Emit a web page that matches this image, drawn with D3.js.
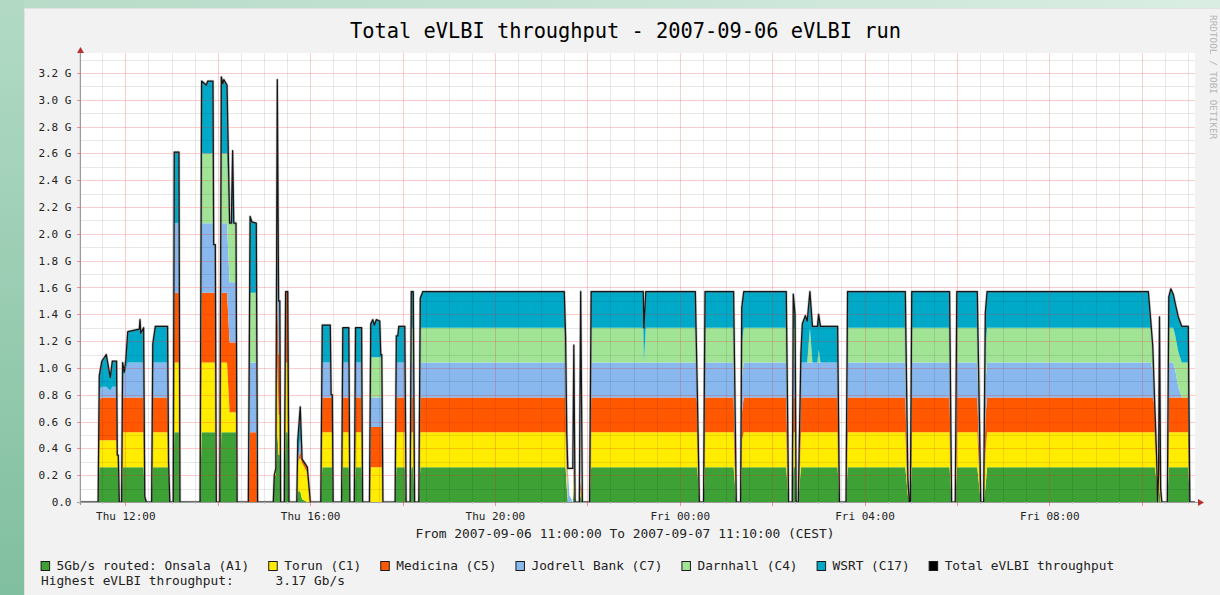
<!DOCTYPE html>
<html>
<head>
<meta charset="utf-8">
<script src="https://cdn.jsdelivr.net/npm/d3@7"></script>
<style>
  html, body { margin:0; padding:0; background:#f2f2f2; overflow:hidden; }
  svg { display:block; }
  text { font-family: "DejaVu Sans Mono", "Liberation Mono", monospace; }
</style>
</head>
<body>
<svg id="chart" width="1220" height="595"></svg>
<script>
// ---------------- DATA ----------------
const timeRange = ["2007-09-06 11:00", "2007-09-07 11:10"];

// minutes after 2007-09-06 11:00 (CEST)
const minutes = [0,24.7,26.2,29.5,35.3,40.5,43.1,48.7,49.6,50.9,
52.2,55.2,56.5,58.7,60.6,63.2,78.2,79.1,80.1,83.8,
85.3,87.3,94.2,95.7,99,114.9,116.2,117.8,122.3,123.6,
129.7,131,157.1,159.1,165.2,167.1,173.9,174.8,176.9,178.2,
182.7,184.7,186.6,187.9,192.1,195.5,197.7,199.4,200.9,203.8,
205.2,219.8,222.1,224.3,230.1,231.8,252.2,253.5,255.5,257.4,
259.1,260.7,261.7,266.5,268.2,271,272.6,282.7,284,287.2,
289.6,296.4,300.3,313.9,315.8,326.2,327.3,328.8,329.9,340.9,
342.5,350.3,351.6,357.4,359,366.9,368.2,377.1,378.8,381.4,
383.4,386,390.5,391.8,393.1,394.6,410.4,412,413.9,415.2,
423,424.7,429.9,431.4,434,435.7,441.2,443.1,446.4,630.1,
631.8,633.4,634.7,636.7,641.2,642.5,644.1,649.7,651.4,653.6,
663,665,732.7,733.5,736,800.3,801.6,802.9,805.5,811,
812.9,850,853.5,859.1,860.6,863.2,918.4,921.4,926.2,927.5,
929.8,931.2,934,937.4,939.3,943.2,945.6,949.1,952.4,958.9,
960.4,962.8,985.1,987.4,996,998,1073,1076.3,1078.2,1079.5,
1081.4,1130.5,1133.1,1137.9,1139.9,1166.5,1171,1174.7,1176.9,1179.2,
1388.6,1391.8,1394.4,1397,1399.6,1400.6,1401.9,1403.1,1404.6,1406.1,
1413.3,1415.2,1417.8,1421,1423.6,1427.5,1432.1,1440.5,1442.5,1450];

// Gb/s per station
const onsala = [0,0,.26,.26,.26,.26,.26,.26,.26,.26,
0,0,.26,.26,.26,.26,.26,.26,.26,.26,
.04,0,0,.26,.26,.26,.26,0,0,.52,
.52,0,0,.52,.52,.52,.52,.52,.52,0,
0,.52,.52,.52,.52,.52,.52,.52,.52,.52,
0,0,0,0,0,0,0,.2,.2,.52,
.35,.35,0,0,.52,.52,0,0,.08,.08,
.02,0,0,0,.26,.26,.26,.26,0,0,
.26,.26,0,0,.26,.26,0,0,0,0,
0,0,0,0,0,0,0,.26,.26,.26,
.26,0,0,.26,.26,0,0,.26,.26,.26,
.26,.1,0,0,0,.1,0,0,.05,0,
0,.26,.26,.26,.26,.26,.26,.26,0,0,
.26,.26,0,0,.26,.26,.26,0,0,.26,
.26,0,0,.26,.26,.26,.26,.26,.26,.26,
.26,.26,.26,0,0,.26,.26,.05,0,0,
.26,.26,0,0,.26,.26,0,0,.1,.26,
.26,.26,.26,.26,.15,0,0,.1,0,0,
0,.26,.26,.26,.26,.26,.26,.26,0,0];

const torun = [0,0,.2,.2,.2,.2,.2,.2,.09,.09,
0,0,.26,.26,.26,.26,.26,.26,.26,.26,
0,0,0,.26,.26,.26,.04,0,0,.52,
.52,0,0,.52,.52,.52,.52,.52,.52,0,
0,.52,.52,.52,.52,.15,.15,.15,.15,.15,
0,0,0,0,0,0,0,0,.05,.52,
.3,.3,0,0,.52,.52,0,0,.22,.25,
.27,.22,0,0,.26,.26,.26,.26,0,0,
.26,.26,0,0,.26,.26,0,0,.26,.26,
.26,.26,.26,.26,.26,0,0,.26,.26,.26,
.26,0,0,.26,.26,0,0,.26,.26,.26,
.26,.1,0,0,0,.1,0,0,.05,0,
0,.26,.26,.26,.26,.26,.26,.26,0,0,
.26,.26,0,0,.2,.26,.26,0,0,.26,
.26,0,0,.26,.26,.26,.26,.26,.26,.26,
.26,.26,.26,0,0,.26,.26,.03,0,0,
.26,.26,0,0,.26,.26,0,0,.26,.26,
.26,.26,.26,.26,.1,0,.1,.2,.05,0,
0,.26,.26,.26,.26,.26,.26,.26,0,0];

const medicina = [0,0,.3,.32,.32,.32,.32,.32,0,0,
0,0,.26,.26,.26,.26,.26,.26,.26,.26,
0,0,0,.26,.26,.26,0,0,0,.52,
.52,0,0,.52,.52,.52,.52,.52,.52,0,
0,.52,.52,.52,.52,.52,.52,.52,.52,.52,
0,0,.52,.52,.52,0,0,0,0,.52,
.45,.45,0,0,.53,.53,0,0,0,.05,
.03,.04,0,0,.26,.26,.26,.26,0,0,
.26,.26,0,0,.26,.26,0,0,.3,.3,
.3,.3,.3,.3,.3,0,0,.26,.26,.26,
.26,0,0,.26,.26,0,0,.26,.26,.26,
.26,.1,0,0,0,.1,0,0,.05,0,
0,.26,.26,.26,.26,.26,.26,.2,0,0,
.26,.26,0,0,.2,.26,.26,0,0,.26,
.26,0,0,.26,.26,.26,.26,.26,.26,.26,
.26,.26,.26,0,0,.26,.26,.05,0,0,
.26,.26,0,0,.26,.26,0,0,.26,.26,
.26,.26,.26,.2,.05,0,.1,.2,.05,0,
0,.26,.26,.26,.26,.26,.26,.26,0,0];

const jodrell = [0,0,.08,.08,.08,.05,.08,.08,0,0,
0,0,.18,.17,.2,.26,.26,.26,.26,.26,
0,0,0,.26,.26,.26,0,0,0,.52,
.52,0,0,.52,.52,.52,.52,.36,.36,0,
0,.52,.52,.52,.52,.45,.45,.45,.45,.45,
0,0,.52,.52,.52,0,0,0,0,.52,
.4,.4,0,0,0,0,0,0,0,.1,
0,0,0,0,.26,.26,.02,.02,0,0,
.26,.26,0,0,.26,.26,0,0,.22,.22,
.22,.22,.22,.22,.22,0,0,.26,.26,.26,
.26,0,0,.26,.26,0,0,.26,.26,.26,
.26,.2,.25,.05,0,.1,0,0,0,0,
0,.26,.26,.26,.26,.26,.26,.1,0,0,
.26,.26,0,0,.26,.26,.26,0,0,.26,
.26,0,0,.26,.26,.26,.26,.26,.26,.26,
.26,.26,.26,0,0,.26,.26,.05,0,0,
.26,.26,0,0,.26,.26,0,0,.26,.26,
.26,.26,.2,0,0,0,0,.1,0,0,
0,.26,.26,.26,.2,.08,0,0,0,0];

const darnhall = [0,0,0,0,0,0,0,0,0,0,
0,0,0,0,0,0,0,0,0,0,
0,0,0,0,0,0,0,0,0,0,
0,0,0,.52,.52,.52,.52,0,0,0,
0,.52,.52,.52,.52,.44,.44,.44,.44,.44,
0,0,.52,.52,.52,0,0,0,0,.52,
0,0,0,0,0,0,0,0,0,0,
0,0,0,0,0,0,0,0,0,0,
0,0,0,0,0,0,0,0,.3,.3,
.3,.3,.3,.3,.3,0,0,0,0,0,
0,0,0,.26,.26,0,0,.26,.26,.26,
.2,0,0,0,0,.1,0,0,0,0,
0,.26,.26,0,.26,.26,.15,0,0,0,
.26,.26,0,0,.26,.26,.26,0,0,.26,
.26,0,0,0,0,0,0,.26,0,0,
.1,0,0,0,0,.26,.26,0,0,0,
.26,.26,0,0,.26,.26,0,0,.26,.26,
.26,.26,.18,0,0,0,0,.1,0,0,
0,.26,.26,.26,.26,.26,.26,.26,0,0];

const wsrt = [0,0,.1,.19,.24,.1,.19,.19,0,0,
0,0,.08,.02,.08,.23,.25,.32,.22,.26,
0,0,0,.14,.27,.27,0,0,0,.53,
.53,0,0,.54,.51,.54,.54,0,0,0,
0,.57,.52,.55,.51,0,0,.54,0,0,
0,0,.57,.53,.52,0,0,0,0,.55,
0,0,0,0,0,0,0,0,.16,.23,
0,0,0,0,.28,.28,0,0,0,0,
.26,.26,0,0,.26,.26,0,0,.25,.28,
.24,.28,.27,.02,.02,0,0,.2,.2,.27,
.27,0,0,.27,.27,0,0,.22,.27,.27,
0,0,0,0,0,.1,0,0,0,0,
0,.27,.27,.26,.27,.27,0,0,0,0,
.27,.27,0,0,.27,.27,.27,0,0,.25,
.1,0,0,.07,.29,.35,.31,.27,.27,.27,
.26,.27,.27,0,0,.27,.27,0,0,0,
.27,.27,0,0,.27,.27,0,0,.27,.27,
.27,.05,0,0,0,0,0,.1,0,0,
0,.23,.29,.25,.24,.26,.27,.27,0,0];

// measured total eVLBI throughput (Gb/s)
const total = [0,0,.94,1.05,1.10,.93,1.05,1.05,.35,.35,
0,0,1.04,.97,1.06,1.27,1.29,1.36,1.26,1.30,
.04,0,0,1.18,1.31,1.31,.30,0,0,2.61,
2.61,0,0,3.14,3.11,3.14,3.14,1.92,1.92,0,
0,3.17,3.12,3.15,3.11,2.08,2.08,2.62,2.08,2.08,
0,0,2.13,2.09,2.08,0,0,.2,.25,3.15,
1.5,1.5,0,0,1.57,1.57,0,0,.46,.71,
.32,.26,0,0,1.32,1.32,.80,.80,0,0,
1.30,1.30,0,0,1.30,1.30,0,0,1.33,1.36,
1.32,1.36,1.35,1.10,1.10,0,0,1.24,1.24,1.31,
1.31,0,0,1.57,1.57,0,0,1.52,1.57,1.57,
1.24,.5,.25,.25,.25,1.17,0,0,1.57,0,
0,1.57,1.57,1.30,1.57,1.57,1.19,.82,0,0,
1.57,1.57,0,0,1.45,1.57,1.57,0,0,1.55,
1.40,0,0,1.11,1.33,1.39,1.35,1.57,1.31,1.31,
1.40,1.31,1.31,0,0,1.57,1.57,.18,0,0,
1.57,1.57,0,0,1.57,1.57,0,0,1.41,1.57,
1.57,1.35,1.16,.72,.30,0,.2,1.38,.1,0,
0,1.53,1.59,1.55,1.48,1.38,1.31,1.31,0,0];

const seriesKeys = ["onsala","torun","medicina","jodrell","darnhall","wsrt"];
const seriesValues = [onsala, torun, medicina, jodrell, darnhall, wsrt];
const seriesNames = ["5Gb/s routed: Onsala (A1)","Torun (C1)","Medicina (C5)","Jodrell Bank (C7)","Darnhall (C4)","WSRT (C17)"];
const seriesColors = ["#3da136","#ffec00","#ff5800","#88b8ee","#a2e496","#00a9c8"];
const totalName = "Total eVLBI throughput";
const totalColor = "#000000";

const xTickTimes = ["2007-09-06 12:00","2007-09-06 16:00","2007-09-06 20:00","2007-09-07 00:00","2007-09-07 04:00","2007-09-07 08:00"];
const xTickLabels = ["Thu 12:00","Thu 16:00","Thu 20:00","Fri 00:00","Fri 04:00","Fri 08:00"];
const yTickValues = [0,0.2,0.4,0.6,0.8,1.0,1.2,1.4,1.6,1.8,2.0,2.2,2.4,2.6,2.8,3.0,3.2];
const yTickLabels = ["0.0","0.2 G","0.4 G","0.6 G","0.8 G","1.0 G","1.2 G","1.4 G","1.6 G","1.8 G","2.0 G","2.2 G","2.4 G","2.6 G","2.8 G","3.0 G","3.2 G"];

const titleText = "Total eVLBI throughput - 2007-09-06 eVLBI run";
const subtitleText = "From 2007-09-06 11:00:00 To 2007-09-07 11:10:00 (CEST)";
const highestLabel = "Highest eVLBI throughput:";
const watermark = "RRDTOOL / TOBI OETIKER";

// ---------------- DRAWING ----------------
const W = 1220, H = 595;
const P = {left:80, right:1195, top:53, bottom:502};
const parseTime = d3.timeParse("%Y-%m-%d %H:%M");
const tStart = parseTime(timeRange[0]);
const tEnd = parseTime(timeRange[1]);

const x = d3.scaleTime().domain([tStart, tEnd]).range([79.1, 1195.6]);
const y = d3.scaleLinear().domain([0, 3.349]).range([P.bottom, P.top]);

const svg = d3.select("#chart");
const defs = svg.append("defs");

// page background
svg.append("rect").attr("width", W).attr("height", H).attr("fill", "#f2f2f2");
const gTop = defs.append("linearGradient").attr("id","gTop").attr("x1",0).attr("x2",1).attr("y1",0).attr("y2",0);
gTop.append("stop").attr("offset",0).attr("stop-color","#b6dbc7");
gTop.append("stop").attr("offset",1).attr("stop-color","#d9ede3");
const gLeft = defs.append("linearGradient").attr("id","gLeft").attr("x1",0).attr("x2",0).attr("y1",0).attr("y2",1);
gLeft.append("stop").attr("offset",0).attr("stop-color","#b2dac5");
gLeft.append("stop").attr("offset",1).attr("stop-color","#80bf9f");
svg.append("rect").attr("x",0).attr("y",0).attr("width",W).attr("height",8).attr("fill","url(#gTop)");
svg.append("rect").attr("x",0).attr("y",0).attr("width",24).attr("height",H).attr("fill","url(#gLeft)");
svg.append("line").attr("x1",24.5).attr("x2",24.5).attr("y1",8).attr("y2",H).attr("stroke","#e2e2e2");
svg.append("line").attr("x1",24).attr("x2",W).attr("y1",8.5).attr("y2",8.5).attr("stroke","#e2e2e2");

// plot area
svg.append("rect").attr("x",P.left).attr("y",P.top).attr("width",P.right-P.left).attr("height",P.bottom-P.top).attr("fill","#ffffff");
defs.append("clipPath").attr("id","clip").append("rect")
  .attr("x",P.left).attr("y",P.top-5).attr("width",P.right-P.left).attr("height",P.bottom-P.top+6);

const table = minutes.map((m,i) => {
  const row = {date: new Date(tStart.getTime() + m*60000), total: total[i]};
  seriesKeys.forEach((k,j) => row[k] = seriesValues[j][i]);
  return row;
});
const layers = d3.stack().keys(seriesKeys)(table);
const area = d3.area().x(d => x(d.data.date)).y0(d => y(d[0])).y1(d => y(d[1]));

const gPlot = svg.append("g").attr("clip-path","url(#clip)");
gPlot.selectAll("path.layer").data(layers).join("path")
  .attr("class","layer").attr("fill",(d,i) => seriesColors[i]).attr("d", area);

// grid (drawn over the areas, translucent like rrdtool)
const gGrid = svg.append("g").attr("shape-rendering","crispEdges");
const majorX = d3.timeHour.every(2).range(tStart, tEnd);
const minorX = d3.timeMinute.every(30).range(tStart, tEnd).filter(d => !(d.getMinutes()===0 && d.getHours()%2===0));
gGrid.selectAll("line.mx").data(minorX).join("line").attr("class","mx")
  .attr("x1",d=>Math.round(x(d))+0.5).attr("x2",d=>Math.round(x(d))+0.5)
  .attr("y1",P.top).attr("y2",P.bottom).attr("stroke","rgba(0,0,0,0.09)");
const yMinor = d3.range(1,34).filter(k => k%2===1).map(k => k/10);
const yMajor = d3.range(1,17).map(k => k/5);
gGrid.selectAll("line.my").data(yMinor).join("line").attr("class","my")
  .attr("x1",P.left).attr("x2",P.right).attr("y1",d=>Math.round(y(d))+0.5).attr("y2",d=>Math.round(y(d))+0.5)
  .attr("stroke","rgba(0,0,0,0.09)");
gGrid.selectAll("line.MX").data(majorX).join("line").attr("class","MX")
  .attr("x1",d=>Math.round(x(d))+0.5).attr("x2",d=>Math.round(x(d))+0.5)
  .attr("y1",P.top).attr("y2",P.bottom).attr("stroke","rgba(235,30,30,0.22)");
gGrid.selectAll("line.MY").data(yMajor).join("line").attr("class","MY")
  .attr("x1",P.left).attr("x2",P.right).attr("y1",d=>Math.round(y(d))+0.5).attr("y2",d=>Math.round(y(d))+0.5)
  .attr("stroke","rgba(235,30,30,0.22)");

// total line
const line = d3.line().x(d => x(d.date)).y(d => y(d.total));
gPlot.append("path").datum(table).attr("fill","none").attr("stroke","#777").attr("stroke-opacity",0.4)
  .attr("stroke-width",2.6).attr("stroke-linejoin","round").attr("d",line);
gPlot.append("path").datum(table).attr("fill","none").attr("stroke","#151515")
  .attr("stroke-width",1.25).attr("stroke-linejoin","round").attr("d",line);

// axes lines, ticks, arrows
const gAx = svg.append("g");
gAx.append("line").attr("x1",80.5).attr("x2",80.5).attr("y1",50).attr("y2",505).attr("stroke","#9a9a9a");
gAx.append("line").attr("x1",77).attr("x2",1199).attr("y1",502.5).attr("y2",502.5).attr("stroke","#9a9a9a");
gAx.append("path").attr("d","M77,53 L84,53 L80.5,47 Z").attr("fill","#b8312f");
gAx.append("path").attr("d","M1198,499 L1198,506 L1204,502.5 Z").attr("fill","#b8312f");
gAx.selectAll("line.tkM").data(majorX).join("line").attr("class","tkM")
  .attr("x1",d=>Math.round(x(d))+0.5).attr("x2",d=>Math.round(x(d))+0.5).attr("y1",502).attr("y2",506)
  .attr("stroke","rgba(235,30,30,0.45)");
gAx.selectAll("line.tkm").data(minorX).join("line").attr("class","tkm")
  .attr("x1",d=>Math.round(x(d))+0.5).attr("x2",d=>Math.round(x(d))+0.5).attr("y1",502).attr("y2",504)
  .attr("stroke","#c8c8c8");
gAx.selectAll("line.tky").data(yMajor).join("line").attr("class","tky")
  .attr("x1",77).attr("x2",80).attr("y1",d=>Math.round(y(d))+0.5).attr("y2",d=>Math.round(y(d))+0.5)
  .attr("stroke","rgba(235,30,30,0.45)");

// tick labels via d3 axes
const xAxis = d3.axisBottom(x).tickValues(xTickTimes.map(parseTime))
  .tickFormat((d,i) => xTickLabels[i]).tickSize(0).tickPadding(9.8);
const gx = svg.append("g").attr("transform",`translate(0,${P.bottom})`).call(xAxis);
gx.select(".domain").remove();
gx.selectAll("text").attr("font-family","DejaVu Sans Mono").attr("font-size","11px").attr("fill","#222");

const yAxis = d3.axisLeft(y).tickValues(yTickValues).tickFormat((d,i) => yTickLabels[i]).tickSize(0).tickPadding(8.5);
const gy = svg.append("g").attr("transform",`translate(${P.left},0)`).call(yAxis);
gy.select(".domain").remove();
gy.selectAll("text").attr("font-family","DejaVu Sans Mono").attr("font-size","11px").attr("fill","#222");

// title & subtitle
svg.append("text").attr("x",625.5).attr("y",38).attr("text-anchor","middle")
  .attr("font-size","20.35px").attr("fill","#000").text(titleText);
svg.append("text").attr("x",625).attr("y",538).attr("text-anchor","middle")
  .attr("font-size","12.9px").attr("fill","#222").text(subtitleText);

// watermark
svg.append("text").attr("transform","translate(1209.5,15) rotate(90)")
  .attr("font-size","9.4px").attr("fill","#b4b4b4").text(watermark);

// legend
const legendItems = seriesNames.map((n,i) => ({name:n, color:seriesColors[i]})).concat([{name: totalName, color: totalColor}]);
const gLeg = svg.append("g");
let lx = 56.6;
legendItems.forEach(item => {
  gLeg.append("rect").attr("x", lx-15.5).attr("y", 561.5).attr("width", 8.5).attr("height", 9)
    .attr("fill", item.color).attr("stroke", "#1a1a1a").attr("stroke-width", 1);
  const t = gLeg.append("text").attr("x", lx).attr("y", 570.3).attr("font-size","12.8px").attr("fill","#222").text(item.name);
  lx += t.node().getComputedTextLength() + 35;
});
gLeg.append("text").attr("x",41).attr("y",584.5).attr("font-size","12.8px").attr("fill","#222").text(highestLabel);
gLeg.append("text").attr("x",275.5).attr("y",584.5).attr("font-size","12.8px").attr("fill","#222")
  .text(d3.max(total).toFixed(2) + " Gb/s");
</script>
</body>
</html>
